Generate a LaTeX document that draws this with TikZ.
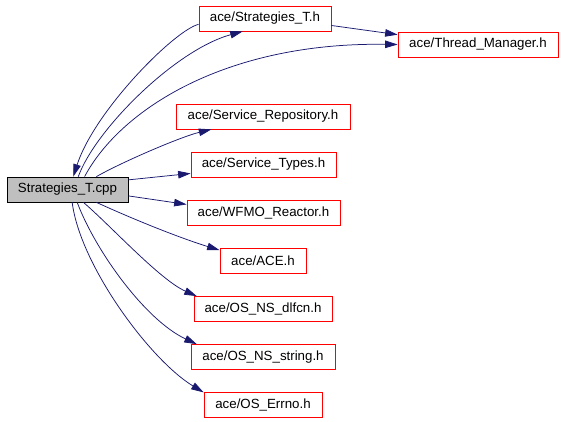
\documentclass[tikz,border=0pt]{standalone}
\usepackage{fontspec}
\setmainfont{Liberation Sans}
\usetikzlibrary{arrows.meta}

\definecolor{inclblue}{RGB}{25,25,112}
\definecolor{maingray}{RGB}{191,191,191}

\tikzset{every picture/.style={line width=0.75pt}}
\tikzset{
  filebox/.style={draw=red, inner sep=0pt, minimum height=25pt,
    font=\fontsize{13.3}{16}\selectfont},
  mainbox/.style={filebox, draw=black, fill=maingray},
  incl/.style={draw=inclblue, line width=0.75pt,
    -{Triangle[length=12.5pt,width=7.5pt,fill=inclblue]}}
}

\begin{document}
\begin{tikzpicture}[x=1pt,y=1pt,yscale=-1,xscale=1]
	\useasboundingbox (0,0) rectangle (563,421);

	%Shape: Rectangle [main file]
	\node[mainbox, minimum width=121pt] (cpp) at (67.5,189.5) {Strategies\_T.cpp};
	%Shape: Rectangle [included headers]
	\node[filebox, minimum width=132pt] (sth) at (265,18.5) {ace/Strategies\_T.h};
	\node[filebox, minimum width=160pt] (thr) at (478,44.5) {ace/Thread\_Manager.h};
	\node[filebox, minimum width=174pt] (srep) at (263,116.5) {ace/Service\_Repository.h};
	\node[filebox, minimum width=145pt] (stypes) at (263.5,164.5) {ace/Service\_Types.h};
	\node[filebox, minimum width=153pt] (wfmo) at (263.5,212.5) {ace/WFMO\_Reactor.h};
	\node[filebox, minimum width=86pt] (acedef) at (263,261) {ace/ACE.h};
	\node[filebox, minimum width=138pt] (dlfcn) at (263,309) {ace/OS\_NS\_dlfcn.h};
	\node[filebox, minimum width=144pt] (nsstr) at (263,357) {ace/OS\_NS\_string.h};
	\node[filebox, minimum width=118pt] (errno) at (263,405) {ace/OS\_Errno.h};

	%Curve Lines [upper group]
	\draw[incl] (sth.185) .. controls (175,30) and (95,110) .. (cpp.66);
	\draw[incl] (cpp.50) .. controls (95,130) and (175,50) .. (sth.210);
	\draw[incl] (cpp.37) .. controls (120,110) and (225,42) .. (thr.west);
	%Straight Lines
	\draw[incl] (sth.354) -- (thr.173);
	\draw[incl] (cpp.24) .. controls (120,163) and (180,137) .. (srep.194);
	\draw[incl] (cpp.9) -- (stypes.187);
	\draw[incl] (cpp.354) -- (wfmo.174);
	%Curve Lines [lower group]
	\draw[incl] (cpp.336) .. controls (135,220) and (180,238) .. (acedef.166);
	\draw[incl] (cpp.321) .. controls (110,225) and (160,280) .. (dlfcn.169);
	\draw[incl] (cpp.307) .. controls (95,250) and (145,320) .. (nsstr.169);
	\draw[incl] (cpp.290) .. controls (80,265) and (150,360) .. (errno.168);

\end{tikzpicture}
\end{document}
